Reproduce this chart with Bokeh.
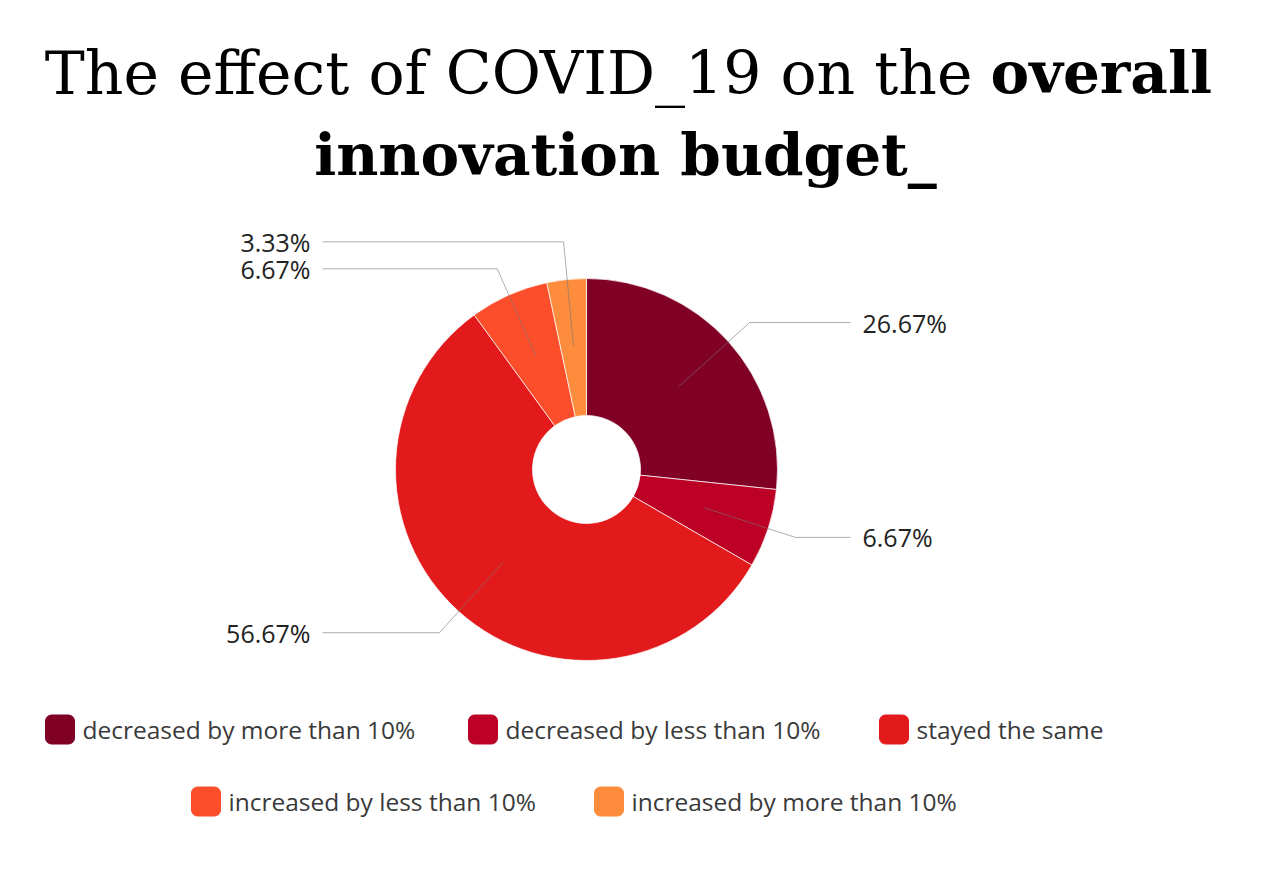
import math
from bokeh.plotting import figure
from bokeh.models import Range1d, ColumnDataSource
from bokeh.core.properties import value
from bokeh.embed import file_html
from bokeh.resources import INLINE

# ---- data ----
categories = ["decreased by more than 10%", "decreased by less than 10%",
              "stayed the same", "increased by less than 10%",
              "increased by more than 10%"]
shares = [26.67, 6.67, 56.67, 6.67, 3.33]
colors = ["#800026", "#bd0026", "#e31a1c", "#fc4e2a", "#fd8d3c"]

title_regular = "The effect of COVID_19 on the"
title_bold_1 = "overall"
title_bold_2 = "innovation budget_"

# ---- layout (pixels) ----
W, H = 1266, 872
def X(sx): return sx
def Y(sy): return H - sy

cx, cy = X(586), Y(469)
R_out, R_in = 191, 54

p = figure(width=W, height=H, x_range=Range1d(0, W), y_range=Range1d(0, H),
           output_backend="svg", toolbar_location=None, min_border=0)
p.axis.visible = False
p.grid.visible = False
p.outline_line_color = None
p.background_fill_color = "white"

total = sum(shares)
fr = [s / total for s in shares]
cum = [0.0]
for f in fr:
    cum.append(cum[-1] + f)
start = [math.pi / 2 - 2 * math.pi * cum[i] for i in range(len(fr))]
end = [math.pi / 2 - 2 * math.pi * cum[i + 1] for i in range(len(fr))]

src = ColumnDataSource(dict(x=[cx] * len(fr), y=[cy] * len(fr), start=start, end=end,
                            color=colors, cat=categories))
p.annular_wedge(x="x", y="y", inner_radius=R_in, outer_radius=R_out,
                start_angle="start", end_angle="end", direction="clock",
                fill_color="color", line_color="white", line_width=0.7,
                source=src)

# ---- leader lines and labels ----
mid = [2 * math.pi * (cum[i] + cum[i + 1]) / 2 for i in range(len(fr))]
pts = []
for i, a in enumerate(mid):
    x0 = cx + 0.65 * R_out * math.sin(a)
    y0 = cy + 0.65 * R_out * math.cos(a)
    x1 = cx + 1.15 * R_out * math.sin(a)
    y1 = cy + 1.15 * R_out * math.cos(a)
    side = 1 if math.sin(a) >= 0 else -1
    pts.append([x0, y0, x1, y1, side, i])

# avoid overlapping labels on each side (min gap 27px)
for side in (1, -1):
    grp = sorted([q for q in pts if q[4] == side], key=lambda q: q[3])
    for k in range(1, len(grp)):
        if grp[k][3] < grp[k - 1][3] + 27:
            grp[k][3] = grp[k - 1][3] + 27

xs, ys = [], []
lx, ly, lt, la = [], [], [], []
for x0, y0, x1, y1, side, i in pts:
    x2 = cx + side * 264
    xs.append([x0, x1, x2])
    ys.append([y0, y1, y1])
    lx.append(cx + side * 276)
    ly.append(y1)
    lt.append("%.2f%%" % shares[i])
    la.append("left" if side > 0 else "right")

p.multi_line(xs, ys, line_color="#777777", line_alpha=0.6, line_width=1)
p.text(lx, ly, text=lt, text_align=la, text_baseline="middle",
       text_font=value("Open Sans"), text_font_size="25px", text_color="#222222")

# ---- title ----
p.text([X(972)], [Y(72)], text=[title_regular], text_align="right",
       text_baseline="alphabetic", text_font=value("DejaVu Serif"),
       text_font_size="60px", text_color="black")
p.text([X(990)], [Y(72)], text=[title_bold_1], text_align="left",
       text_baseline="alphabetic", text_font=value("DejaVu Serif"),
       text_font_style="bold", text_font_size="58px", text_color="black")
p.text([X(625)], [Y(154)], text=[title_bold_2], text_align="center",
       text_baseline="alphabetic", text_font=value("DejaVu Serif"),
       text_font_style="bold", text_font_size="58px", text_color="black")

# ---- legend (manual, two centred rows) ----
leg_box_x = [45, 468, 879, 191, 594]
leg_y = [729, 729, 729, 801, 801]
p.rect([X(v + 14.5) for v in leg_box_x], [Y(v) for v in leg_y], width=29, height=29,
       fill_color=colors, line_color=colors, line_width=1, border_radius=6)
p.text([X(v + 37) for v in leg_box_x], [Y(v) for v in leg_y], text=categories,
       text_align="left", text_baseline="middle", text_font=value("Open Sans"),
       text_font_size="24.5px", text_color="#3a3a3a")

open("out.html", "w").write(file_html(p, INLINE))
